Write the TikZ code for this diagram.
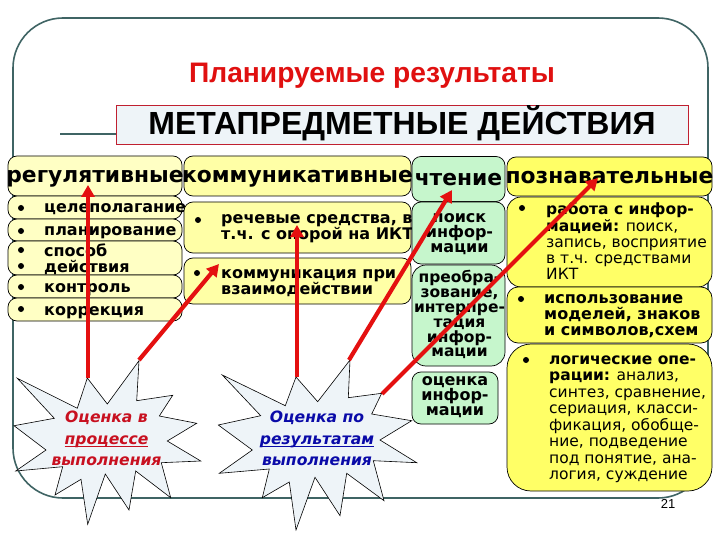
\documentclass[tikz,border=0pt]{standalone}
\usepackage{fontspec}
\setmainfont{DejaVu Sans}
\newfontfamily\arialfont{Liberation Sans}
\usetikzlibrary{arrows.meta}
\definecolor{framecol}{HTML}{3F6464}
\definecolor{titlered}{HTML}{E01010}
\definecolor{boxred}{HTML}{C02030}
\definecolor{paleblue}{HTML}{EEF4F8}
\definecolor{regyellow}{HTML}{FFFFC4}
\definecolor{comyellow}{HTML}{FFFFA6}
\definecolor{cogyellow}{HTML}{FFFF66}
\definecolor{readgreen}{HTML}{C6F6CC}
\definecolor{starred}{HTML}{C81020}
\definecolor{starblue}{HTML}{0A0AA8}
\definecolor{arrowred}{HTML}{E41010}
\newcommand{\fs}[2]{\fontsize{#1}{#2}\selectfont}
\newcommand{\hb}[2]{\raisebox{-#1}[0pt][0pt]{\makebox[0pt]{#2}}}
\begin{document}
\begin{tikzpicture}[x=1pt,y=-1pt,
	panel/.style={rectangle,rounded corners=9pt,draw=black,line width=0.7pt,inner sep=0pt},
	regbox/.style={panel,fill=regyellow,minimum width=174pt},
	combox/.style={panel,fill=comyellow,minimum width=227pt},
	readbox/.style={panel,fill=readgreen},
	cogbox/.style={panel,fill=cogyellow,minimum width=205pt},
	txt/.style={anchor=north west,inner sep=0pt,align=left,font=\fs{16}{16}\bfseries,execute at begin node={\rule{0pt}{12.5pt}}},
	thin txt/.style={txt,font=\fs{15.5}{16.2}},
	rtxt/.style={anchor=north,inner sep=0pt,align=center,font=\fs{16}{15.2}\bfseries,execute at begin node={\rule{0pt}{12.5pt}}},
	head/.style={font=\fs{21.8}{22}\bfseries},
	bul/.style={circle,fill=black,inner sep=0pt,minimum size=6pt},
	starshape/.style={draw=black,line width=0.6pt,fill=paleblue},
	startxt/.style={anchor=base,inner sep=0pt,align=center,font=\fs{15.6}{16}\bfseries\itshape},
	redarrow/.style={draw=arrowred,line width=4.2pt,-{Triangle[length=12pt,width=13pt]}}
]
\useasboundingbox (0,0) rectangle (720,540);
\fill[white] (0,0) rectangle (720,540);

\draw[framecol,line width=1.6pt,rounded corners=50pt] (13,18) rectangle (708,498);
\coordinate (lineend) at (60,134);
\node (title) [anchor=base,inner sep=0pt,text=titlered,font=\arialfont\fs{28.2}{30}\bfseries] at (372,83) {Планируемые результаты};
\node (meta) [draw=boxred,line width=0.7pt,fill=paleblue,minimum width=572pt,minimum height=39pt,inner sep=0pt,font=\arialfont\fs{32}{34}\bfseries] at (402,124.5) {\hb{10.5pt}{МЕТАПРЕДМЕТНЫЕ ДЕЙСТВИЯ}};
\draw[framecol,line width=1.6pt] (lineend) -- (meta.west |- lineend);

% regulative column
\node (hreg) [regbox,head,minimum height=40pt] at (95,176) {\hb{6.5pt}{регулятивные}};
\node (r1) [regbox,minimum height=23pt] at (95,207.5) {};
\node (r2) [regbox,minimum height=22pt] at (95,230) {};
\node (r3) [regbox,minimum height=34pt] at (95,258) {};
\node (r4) [regbox,minimum height=23pt] at (95,286.5) {};
\node (r5) [regbox,minimum height=23pt] at (95,309.5) {};
\foreach \name/\y in {ba/208,bb/231,bc/250,bd/266,be/287,bf/309}
	\node (\name) [bul] at (21,\y) {};
\node (t1) [txt] at (44,199.5) {целеполагание};
\node (t2) [txt] at (44,222.5) {планирование};
\node (t3) [txt] at (44,243.5) {способ\\действия};
\node (t4) [txt] at (44,279.5) {контроль};
\node (t5) [txt] at (44,302.5) {коррекция};

% communicative column
\node (hcom) [combox,head,minimum height=40pt] at (297.5,176) {\hb{6.5pt}{коммуникативные}};
\node (c1) [combox,minimum height=51pt] at (297.5,227.5) {};
\node (c2) [combox,minimum height=46pt] at (297.5,281) {};
\node (bg) [bul] at (198,220) {};
\node (bh) [bul] at (197,273) {};
\node (t6) [txt] at (221,214) {речевые средства, в\\т.ч. с опорой на ИКТ};
\node (t7) [txt] at (221,269) {коммуникация при\\взаимодействии};

% reading column
\node (hread) [readbox,head,minimum width=93pt,minimum height=45pt] at (458.5,179) {\hb{6pt}{чтение}};
\node (g1) [readbox,minimum width=93pt,minimum height=62pt] at (458.5,233) {};
\node (g2) [readbox,minimum width=93pt,minimum height=101pt,rounded corners=14pt] at (458.5,315.5) {};
\node (g3) [readbox,minimum width=86pt,minimum height=52pt] at (455,398) {};
\node (t8) [rtxt] at (459.5,213) {поиск\\инфор-\\мации};
\node (t9) [rtxt,font=\fs{15.5}{14.8}\bfseries] at (459.5,270.5) {преобра-\\зование,\\интерпре-\\тация\\инфор-\\мации};
\node (t10) [rtxt] at (455,376) {оценка\\инфор-\\мации};

% cognitive column
\node (hcog) [cogbox,head,minimum height=39pt] at (609.5,176.5) {\hb{7.5pt}{познавательные}};
\node (y1) [cogbox,minimum height=90pt,rounded corners=14pt] at (609.5,242) {};
\node (y2) [cogbox,minimum height=56pt,rounded corners=11pt] at (609.5,315) {};
\node (y3) [cogbox,minimum height=147pt,rounded corners=24pt] at (609.5,417.5) {};
\node (bi) [bul] at (522,208) {};
\node (bj) [bul] at (521,299) {};
\node (bk) [bul] at (526,360) {};
\node (t11) [thin txt] at (546,202.5) {\textbf{работа с инфор-}\\\textbf{мацией:} поиск,\\запись, восприятие\\в т.ч. средствами\\ИКТ};
\node (t12) [txt] at (544,294.5) {использование\\моделей, знаков\\и символов,схем};
\node (t13) [thin txt,font=\fs{15.5}{16.5}] at (549,355.5) {\textbf{логические опе-}\\\textbf{рации:} анализ,\\синтез, сравнение,\\сериация, класси-\\фикация, обобще-\\ние, подведение\\под понятие, ана-\\логия, суждение};

\node (num) [inner sep=0pt,font=\arialfont\fs{13}{14}] at (668,504) {21};

% stars
\draw[starshape] (87.3,378) -- (107.3,404) -- (139,360.7) -- (136.7,400.7) -- (172.7,395.3) -- (159.3,416) -- (196.7,423.3) -- (167.3,441) -- (200.7,461) -- (161.3,462.7) -- (170.7,497.7) -- (135.7,471) -- (129,510) -- (105.3,474) -- (87.7,524.3) -- (81,479.3) -- (55,495) -- (62.7,466.7) -- (15.7,471) -- (46,450) -- (14,425.7) -- (54.3,418.3) -- (17.3,378.3) -- (77.3,408.3) -- cycle;
\draw[starshape] (296,377) -- (317.7,401.7) -- (350,360) -- (348.3,397.7) -- (381.7,393.3) -- (371.7,414) -- (411.7,420.7) -- (380,440) -- (416.7,462.7) -- (373.3,460.7) -- (384,500.7) -- (346.7,473.3) -- (340,515.7) -- (315,477.3) -- (296,530) -- (289.3,482) -- (262.3,497.7) -- (269.3,469) -- (219.3,473.3) -- (252.3,450) -- (218.3,425) -- (260.7,415.7) -- (222.3,375) -- (285.3,405.7) -- cycle;
\node (s1a) [startxt,text=starred] at (106.5,422.5) {Оценка в};
\node (s1b) [startxt,text=starred] at (106.5,444.5) {\underline{\smash{процессе}}};
\node (s1c) [startxt,text=starred] at (106.5,465) {выполнения};
\node (s2a) [startxt,text=starblue] at (317,422.5) {Оценка по};
\node (s2b) [startxt,text=starblue] at (317,444.5) {\underline{\smash{результатам}}};
\node (s2c) [startxt,text=starblue] at (317,465) {выполнения};

% arrows
\coordinate (fromA) at (88,378);
\coordinate (fromB) at (139,360);
\coordinate (fromC) at (297,377);
\coordinate (fromD) at (349,360);
\coordinate (fromE) at (382,394);
\coordinate (toA) at (88,185);
\coordinate (toB) at (219,264);
\coordinate (toC) at (297,225);
\coordinate (toD) at (452,190);
\coordinate (toE) at (598,178);
\draw[redarrow] (fromA) -- (toA);
\draw[redarrow] (fromB) -- (toB);
\draw[redarrow] (fromC) -- (toC);
\draw[redarrow] (fromD) -- (toD);
\draw[redarrow] (fromE) -- (toE);
\end{tikzpicture}
\end{document}
